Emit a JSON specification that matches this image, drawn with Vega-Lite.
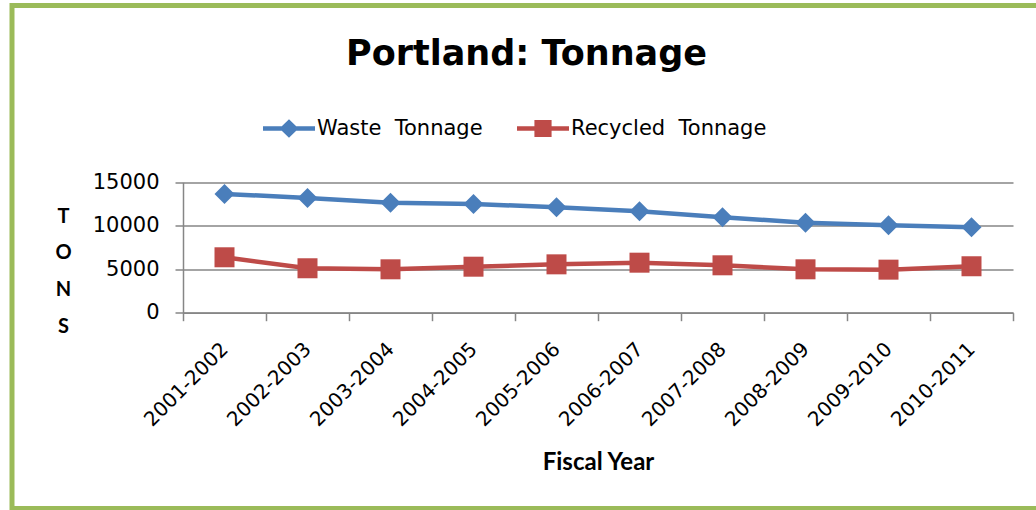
{
  "$schema": "https://vega.github.io/schema/vega-lite/v6.json",
  "width": 1040,
  "height": 503,
  "autosize": {"type": "none"},
  "padding": {"left": 12, "top": 5.5, "right": -16, "bottom": 1.5},
  "background": "white",
  "view": {"stroke": "#9BBB59", "strokeWidth": 5},
  "title": {
    "text": "Portland: Tonnage",
    "font": "DejaVu Sans",
    "fontSize": 35,
    "fontWeight": "bold",
    "color": "black",
    "anchor": "start",
    "frame": "group",
    "baseline": "alphabetic",
    "dx": 334,
    "offset": -94.8
  },
  "data": {
    "values": [
      {"year": "2001-2002", "series": "Waste  Tonnage", "tons": 13630},
      {"year": "2002-2003", "series": "Waste  Tonnage", "tons": 13170},
      {"year": "2003-2004", "series": "Waste  Tonnage", "tons": 12630},
      {"year": "2004-2005", "series": "Waste  Tonnage", "tons": 12480},
      {"year": "2005-2006", "series": "Waste  Tonnage", "tons": 12100},
      {"year": "2006-2007", "series": "Waste  Tonnage", "tons": 11640},
      {"year": "2007-2008", "series": "Waste  Tonnage", "tons": 10950},
      {"year": "2008-2009", "series": "Waste  Tonnage", "tons": 10330},
      {"year": "2009-2010", "series": "Waste  Tonnage", "tons": 10030},
      {"year": "2010-2011", "series": "Waste  Tonnage", "tons": 9800},
      {"year": "2001-2002", "series": "Recycled  Tonnage", "tons": 6360},
      {"year": "2002-2003", "series": "Recycled  Tonnage", "tons": 5100},
      {"year": "2003-2004", "series": "Recycled  Tonnage", "tons": 4980},
      {"year": "2004-2005", "series": "Recycled  Tonnage", "tons": 5280},
      {"year": "2005-2006", "series": "Recycled  Tonnage", "tons": 5550},
      {"year": "2006-2007", "series": "Recycled  Tonnage", "tons": 5740},
      {"year": "2007-2008", "series": "Recycled  Tonnage", "tons": 5440},
      {"year": "2008-2009", "series": "Recycled  Tonnage", "tons": 4980},
      {"year": "2009-2010", "series": "Recycled  Tonnage", "tons": 4940},
      {"year": "2010-2011", "series": "Recycled  Tonnage", "tons": 5330}
    ]
  },
  "encoding": {
    "x": {
      "field": "year",
      "type": "nominal",
      "scale": {"type": "band", "range": [171, 1001], "paddingInner": 0, "paddingOuter": 0},
      "axis": {
        "title": "Fiscal Year",
        "titleFont": "Lato",
        "titleFontSize": 24,
        "titleFontWeight": "bold",
        "titleColor": "black",
        "titleBaseline": "alphabetic",
        "titleY": 156.3,
        "offset": -195.8,
        "labelAngle": -45,
        "labelAlign": "right",
        "labelBaseline": "middle",
        "labelFont": "DejaVu Sans",
        "labelFontSize": 20,
        "labelColor": "black",
        "labelPadding": 25,
        "labelOverlap": false,
        "labelBound": false,
        "tickSize": 8,
        "tickColor": "#868686",
        "tickWidth": 1.5,
        "tickBand": "extent",
        "domainColor": "#868686",
        "domainWidth": 1.5,
        "grid": false
      }
    },
    "y": {
      "field": "tons",
      "type": "quantitative",
      "scale": {"domain": [0, 15000], "range": [307.2, 176.5], "nice": false},
      "axis": {
        "title": ["T", "O", "N", "S"],
        "titleAngle": 0,
        "titleFont": "Lato",
        "titleFontSize": 20,
        "titleFontWeight": "bold",
        "titleColor": "black",
        "titleAlign": "center",
        "titleBaseline": "alphabetic",
        "titleX": -120,
        "titleY": 216.5,
        "titleLineHeight": 36.7,
        "offset": -171,
        "values": [0, 5000, 10000, 15000],
        "format": "d",
        "labelFont": "DejaVu Sans",
        "labelFontSize": 21,
        "labelColor": "black",
        "labelPadding": 16,
        "labelFlush": false,
        "tickSize": 8,
        "tickColor": "#868686",
        "tickWidth": 1.5,
        "domainColor": "#868686",
        "domainWidth": 1.5,
        "grid": true,
        "gridColor": "#868686",
        "gridWidth": 1.5
      }
    },
    "color": {
      "field": "series",
      "type": "nominal",
      "sort": ["Waste  Tonnage", "Recycled  Tonnage"],
      "scale": {"domain": ["Waste  Tonnage", "Recycled  Tonnage"], "range": ["#4A7EBB", "#BE4B48"]},
      "legend": {
        "title": null,
        "orient": "none",
        "legendX": 251,
        "legendY": 97,
        "direction": "horizontal",
        "padding": 0,
        "symbolSize": 2704,
        "labelFont": "DejaVu Sans",
        "labelFontSize": 21,
        "labelColor": "black",
        "labelLimit": 0,
        "labelOffset": 2,
        "labelExpr": "replace(datum.label, '  ', ' \u00a0')",
        "columnPadding": 34,
        "encode": {
          "symbols": {
            "update": {
              "shape": {"signal": "datum.index == 0 ? 'M-1,-0.085L-0.278,-0.085L0,-0.36L0.278,-0.085L1,-0.085L1,0.085L0.278,0.085L0,0.36L-0.278,0.085L-1,0.085Z' : 'M-1,-0.085L-0.33,-0.085L-0.33,-0.33L0.33,-0.33L0.33,-0.085L1,-0.085L1,0.085L0.33,0.085L0.33,0.33L-0.33,0.33L-0.33,0.085L-1,0.085Z'"},
              "fill": {"signal": "datum.index == 0 ? '#4A7EBB' : '#BE4B48'"},
              "fillOpacity": {"value": 1},
              "strokeWidth": {"value": 0},
              "opacity": {"value": 1}
            }
          }
        }
      }
    }
  },
  "layer": [
    {"mark": {"type": "line", "strokeWidth": 4.5}},
    {
      "transform": [{"filter": "datum.series == 'Waste  Tonnage'"}],
      "mark": {"type": "point", "filled": true, "opacity": 1, "size": 400, "shape": "diamond"}
    },
    {
      "transform": [{"filter": "datum.series == 'Recycled  Tonnage'"}],
      "mark": {"type": "point", "filled": true, "opacity": 1, "size": 400, "shape": "square"}
    }
  ]
}
